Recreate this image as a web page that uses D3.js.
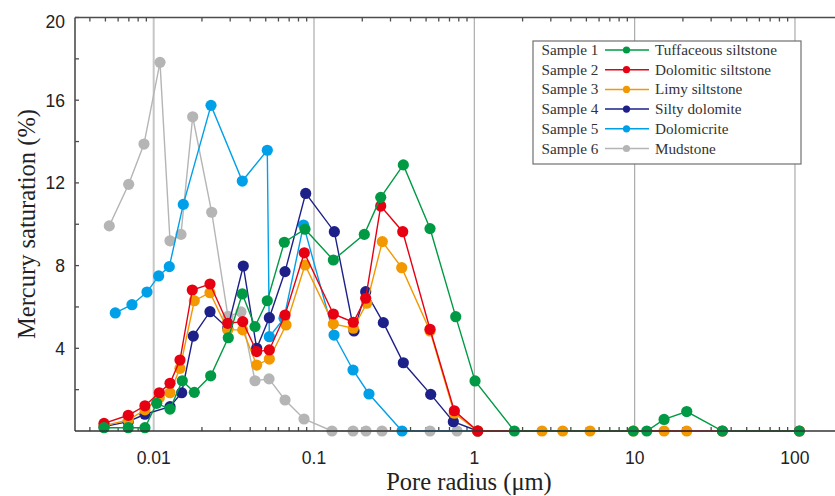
<!DOCTYPE html>
<html>
<head>
<meta charset="utf-8">
<script src="https://cdn.jsdelivr.net/npm/d3@7"></script>
<style>
  html, body { margin: 0; padding: 0; background: #ffffff; }
  svg { display: block; }
</style>
</head>
<body>
<svg id="chart" width="835" height="496"></svg>
<script>
// ---------------- DATA ----------------
const sampleNames = ["Sample 1", "Sample 2", "Sample 3", "Sample 4", "Sample 5", "Sample 6"];
const lithologies = ["Tuffaceous siltstone", "Dolomitic siltstone", "Limy siltstone", "Silty dolomite", "Dolomicrite", "Mudstone"];
const colors = ["#009a44", "#e60012", "#f39800", "#1d2088", "#00a0e9", "#b5b5b5"];

// Sample 1 - Tuffaceous siltstone
const radius1 = [0.0049, 0.00694, 0.00882, 0.01044, 0.01264, 0.01508, 0.01792, 0.02268, 0.0292, 0.0357, 0.04284, 0.05112, 0.06529, 0.08788, 0.132, 0.2059, 0.2607, 0.3607, 0.5293, 0.7656, 1.01, 1.777, 9.81, 11.9, 15.26, 21.13, 35.25, 106.5];
const sat1    = [0.16, 0.16, 0.16, 1.34, 1.06, 2.43, 1.87, 2.67, 4.51, 6.63, 5.05, 6.30, 9.13, 9.76, 8.27, 9.51, 11.30, 12.87, 9.79, 5.53, 2.42, 0, 0, 0, 0.56, 0.94, 0, 0];

// Sample 2 - Dolomitic siltstone
const radius2 = [0.0049, 0.00694, 0.00882, 0.01084, 0.01264, 0.01459, 0.01741, 0.02245, 0.02895, 0.03592, 0.0439, 0.05264, 0.06595, 0.087, 0.132, 0.1759, 0.2101, 0.2607, 0.3576, 0.5293, 0.7503, 1.05, 35.25, 106.5];
const sat2    = [0.37, 0.76, 1.22, 1.85, 2.31, 3.43, 6.82, 7.11, 5.21, 5.29, 3.84, 3.92, 5.61, 8.62, 5.66, 5.26, 6.42, 10.88, 9.64, 4.92, 0.98, 0, 0, 0];

// Sample 3 - Limy siltstone
const radius3 = [0.0049, 0.00694, 0.00882, 0.01084, 0.01264, 0.01459, 0.01792, 0.02245, 0.02895, 0.03592, 0.0439, 0.05264, 0.0669, 0.0879, 0.132, 0.1759, 0.2133, 0.2668, 0.3524, 0.5293, 0.7503, 1.05, 2.644, 3.56, 5.271, 9.81, 15.26, 21.13];
const sat3    = [0.26, 0.53, 1.02, 1.61, 1.85, 3.03, 6.30, 6.69, 4.89, 4.89, 3.19, 3.48, 5.13, 8.03, 5.18, 4.97, 6.18, 9.16, 7.90, 4.84, 0.86, 0, 0, 0, 0, 0, 0, 0];

// Sample 4 - Silty dolomite
const radius4 = [0.0049, 0.00694, 0.00882, 0.01264, 0.01495, 0.01766, 0.02245, 0.02895, 0.03622, 0.0439, 0.05264, 0.06595, 0.08876, 0.1339, 0.1776, 0.2101, 0.2706, 0.3607, 0.5346, 0.7396, 1.05];
const sat4    = [0.21, 0.45, 0.81, 1.18, 1.85, 4.59, 5.77, 4.97, 7.98, 4.00, 5.48, 7.71, 11.49, 9.64, 4.84, 6.74, 5.24, 3.30, 1.77, 0.45, 0];

// Sample 5 - Dolomicrite
const radius5 = [0.00576, 0.007321, 0.009083, 0.01074, 0.01251, 0.0153, 0.02278, 0.03571, 0.05112, 0.05264, 0.065, 0.086, 0.1333, 0.1751, 0.2203, 0.354, 1.05];
const sat5    = [5.71, 6.11, 6.72, 7.50, 7.95, 10.96, 15.75, 12.09, 13.58, 4.56, 5.45, 9.96, 4.64, 2.95, 1.79, 0, 0];

// Sample 6 - Mudstone
const radius6 = [0.005284, 0.006982, 0.008698, 0.01095, 0.01264, 0.0148, 0.01751, 0.02301, 0.02907, 0.03504, 0.04284, 0.05241, 0.06595, 0.08663, 0.1295, 0.1751, 0.211, 0.2656, 0.5293, 0.78];
const sat6    = [9.92, 11.93, 13.88, 17.83, 9.20, 9.51, 15.20, 10.58, 5.54, 5.76, 2.43, 2.52, 1.50, 0.58, 0, 0, 0, 0, 0, 0];

const xTickValues = [0.01, 0.1, 1, 10, 100];
const xTickLabels = ["0.01", "0.1", "1", "10", "100"];
const yTickValues = [4, 8, 12, 16, 20];
const yMinorValues = [2, 6, 10, 14, 18];
const xDomain = [0.00323, 177.7];
const yDomain = [0, 20];

const xTitle = "Pore radius (\u03bcm)";
const yTitle = "Mercury saturation (%)";

// ---------------- BUILD ----------------
(function () {
const radii = [radius1, radius2, radius3, radius4, radius5, radius6];
const sats = [sat1, sat2, sat3, sat4, sat5, sat6];
const series = sampleNames.map((name, i) => ({
  name, lith: lithologies[i], color: colors[i],
  points: radii[i].map((r, j) => ({ r, s: sats[i][j] }))
}));

const svg = d3.select("#chart");
const pL = 75, pR = 835, pT = 17.5, pB = 431;

const x = d3.scaleLog().domain(xDomain).range([pL, pR]);
const y = d3.scaleLinear().domain(yDomain).range([pB, pT]);

const axisColor = "#4d4d4d";
const serif = "'Liberation Serif', 'Times New Roman', serif";
const sans = "'Liberation Sans', Arial, sans-serif";

// gridlines at decades
svg.append("g").selectAll("line").data(xTickValues).join("line")
  .attr("x1", d => x(d)).attr("x2", d => x(d))
  .attr("y1", pT).attr("y2", pB)
  .attr("stroke", d => d === 0.01 ? "#c6c6c6" : "#ababab")
  .attr("stroke-width", d => d === 0.01 ? 2 : 1.2);

// minor x ticks
const minorX = [];
for (let e = -3; e <= 2; e++) {
  for (let m = 2; m <= 9; m++) {
    const v = m * Math.pow(10, e);
    if (v > xDomain[0] && v < xDomain[1]) minorX.push(v);
  }
}
const gTicks = svg.append("g").attr("stroke", axisColor).attr("stroke-width", 1.3);
gTicks.selectAll("line.bt").data(minorX).join("line").attr("class", "bt")
  .attr("x1", d => x(d)).attr("x2", d => x(d)).attr("y1", pB).attr("y2", pB - 4);
gTicks.selectAll("line.tt").data(minorX).join("line").attr("class", "tt")
  .attr("x1", d => x(d)).attr("x2", d => x(d)).attr("y1", pT).attr("y2", pT + 4);
gTicks.selectAll("line.yt").data(yTickValues.concat(yMinorValues)).join("line").attr("class", "yt")
  .attr("x1", pL).attr("x2", pL + 4).attr("y1", d => y(d)).attr("y2", d => y(d));

// series (drawn bottom to top: 6,5,4,3,2,1)
const line = d3.line().x(d => x(d.r)).y(d => y(d.s));
const order = [5, 4, 3, 2, 1, 0];
order.forEach(i => {
  const s = series[i];
  const g = svg.append("g");
  g.append("path").datum(s.points).attr("d", line)
    .attr("fill", "none").attr("stroke", s.color).attr("stroke-width", 1.4);
  g.selectAll("circle").data(s.points).join("circle")
    .attr("cx", d => x(d.r)).attr("cy", d => y(d.s)).attr("r", 5.6)
    .attr("fill", s.color);
});

// axes frame lines
svg.append("line").attr("x1", pL).attr("x2", pL).attr("y1", pT).attr("y2", pB)
  .attr("stroke", axisColor).attr("stroke-width", 1.6);
svg.append("line").attr("x1", pL).attr("x2", pR).attr("y1", pB).attr("y2", pB)
  .attr("stroke", "#333").attr("stroke-width", 1.6);
svg.append("line").attr("x1", pL).attr("x2", pR).attr("y1", pT).attr("y2", pT)
  .attr("stroke", axisColor).attr("stroke-width", 1.6);

// tick labels
svg.append("g").selectAll("text").data(xTickValues).join("text")
  .attr("x", d => x(d)).attr("y", 464)
  .attr("text-anchor", "middle")
  .attr("font-family", sans).attr("font-size", 17.5).attr("fill", "#222")
  .text((d, i) => xTickLabels[i]);

svg.append("g").selectAll("text").data(yTickValues).join("text")
  .attr("x", 65).attr("y", d => y(d) + (d === 20 ? 10.5 : 6.3))
  .attr("text-anchor", "end")
  .attr("font-family", sans).attr("font-size", 17.5).attr("fill", "#222")
  .text(d => d);

// axis titles
svg.append("text").attr("x", 469).attr("y", 490)
  .attr("text-anchor", "middle").attr("font-family", serif).attr("font-size", 24.5)
  .attr("fill", "#222").text(xTitle);
svg.append("text")
  .attr("transform", "translate(35,224) rotate(-90)")
  .attr("text-anchor", "middle").attr("font-family", serif).attr("font-size", 24.5)
  .attr("fill", "#222").text(yTitle);

// legend
const lg = svg.append("g");
lg.append("rect").attr("x", 533).attr("y", 41).attr("width", 268).attr("height", 123)
  .attr("fill", "#fff").attr("stroke", "#707070").attr("stroke-width", 1.2);
series.forEach((s, i) => {
  const cy = 50 + i * 19.7;
  lg.append("text").attr("x", 541.5).attr("y", cy + 5)
    .attr("font-family", serif).attr("font-size", 15.2).attr("fill", "#333").text(s.name);
  lg.append("line").attr("x1", 605).attr("x2", 649).attr("y1", cy).attr("y2", cy)
    .attr("stroke", s.color).attr("stroke-width", 1.5);
  lg.append("circle").attr("cx", 626.5).attr("cy", cy).attr("r", 3.6).attr("fill", s.color);
  lg.append("text").attr("x", 655).attr("y", cy + 5)
    .attr("font-family", serif).attr("font-size", 15.2).attr("fill", "#333").text(s.lith);
});
})();
</script>
</body>
</html>
